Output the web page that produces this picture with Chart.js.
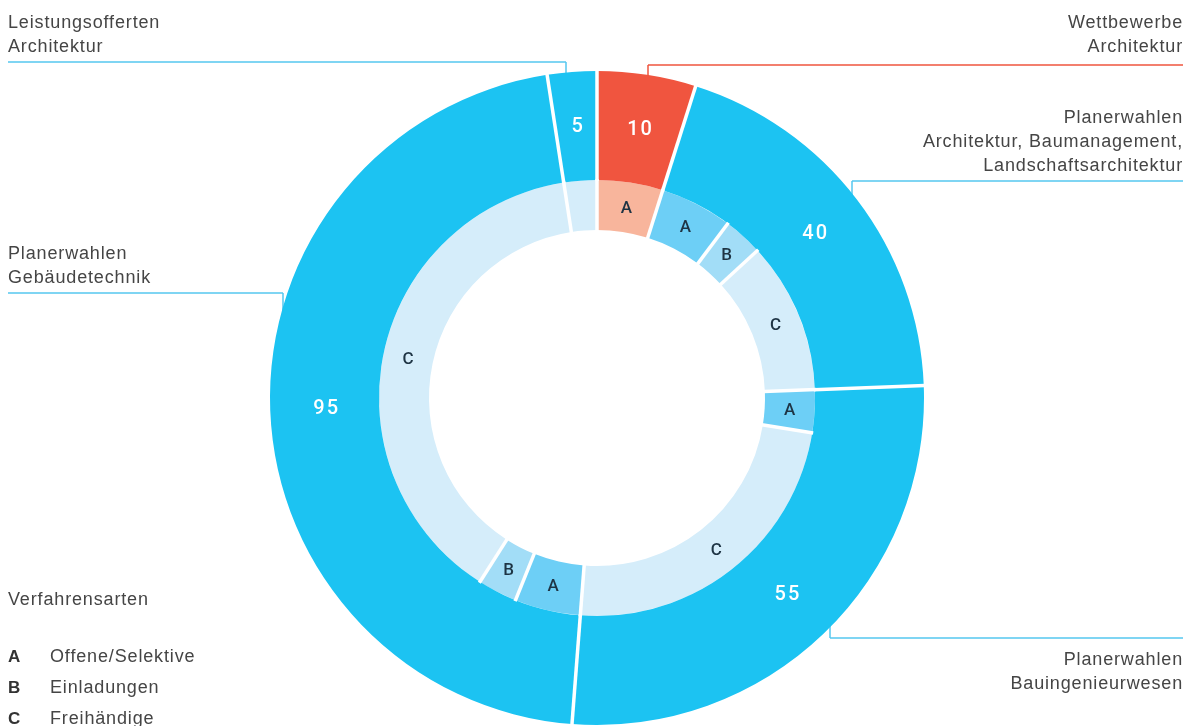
<!DOCTYPE html>
<html><head><meta charset="utf-8">
<script src="https://cdn.jsdelivr.net/npm/chart.js@4"></script>
<style>html,body{margin:0;padding:0;background:#fff;overflow:hidden}#wrap{width:1189px;height:726px;position:relative}</style>
</head><body><div id="wrap"><canvas id="c" width="1189" height="726"></canvas></div>
<script>
// ---- data ----
const groupNames = ['Wettbewerbe Architektur', 'Planerwahlen Architektur, Baumanagement, Landschaftsarchitektur', 'Planerwahlen Bauingenieurwesen', 'Planerwahlen Gebäudetechnik', 'Leistungsofferten Architektur'];
const groupValues = [10, 40, 55, 95, 5];
const subGroupIndex = [0, 1, 1, 1, 2, 2, 3, 3, 3, 4];
const subTypes = ['A', 'A', 'B', 'C', 'A', 'C', 'A', 'B', 'C', ''];
const subValues = [10, 11, 6, 23, 6.5, 48.5, 10, 6, 79, 5];
const legendKeys = ['A', 'B', 'C'];
const legendNames = ['Offene/Selektive', 'Einladungen', 'Freihändige'];
const legendTitle = 'Verfahrensarten';

// ---- styles ----
const RED = '#F0553F', BLUE = '#1CC3F2';
const SUB_COL = { A: '#6DCFF6', B: '#A2DDF7', C: '#D5EDFA', '': '#D5EDFA' };
const SALMON = '#F8B59C';
const outerColors = groupValues.map((v, i) => i === 0 ? RED : BLUE);
const innerColors = subTypes.map((t, i) => subGroupIndex[i] === 0 ? SALMON : SUB_COL[t]);
const TEXT = '#454545';
const FONT = '"Liberation Sans", Arial, sans-serif';

const callouts = [
  { g: 4, lines: ['Leistungsofferten', 'Architektur'], align: 'left', x: 8, y0: 28, lineY: 62, x1: 8, x2: 566, ax: 566, col: '#55C8EF' },
  { g: 0, lines: ['Wettbewerbe', 'Architektur'], align: 'right', x: 1183, y0: 28, lineY: 65, x1: 648, x2: 1183, ax: 648, col: RED },
  { g: 1, lines: ['Planerwahlen', 'Architektur, Baumanagement,', 'Landschaftsarchitektur'], align: 'right', x: 1183, y0: 123, lineY: 181, x1: 852, x2: 1183, ax: 852, col: '#55C8EF' },
  { g: 3, lines: ['Planerwahlen', 'Gebäudetechnik'], align: 'left', x: 8, y0: 259, lineY: 293, x1: 8, x2: 283, ax: 283, col: '#55C8EF' },
  { g: 2, lines: ['Planerwahlen', 'Bauingenieurwesen'], align: 'right', x: 1183, y0: 665, lineY: 638, x1: 830, x2: 1183, ax: 830, col: '#55C8EF' }
];

const calloutPlugin = {
  id: 'callouts',
  beforeDatasetsDraw(chart) {
    const ctx = chart.ctx;
    const arc0 = chart.getDatasetMeta(0).data[0];
    const cx = arc0.x, cy = arc0.y, R = arc0.outerRadius;
    ctx.save();
    callouts.forEach(c => {
      ctx.strokeStyle = c.col; ctx.lineWidth = 1.5;
      const dx = c.ax - cx;
      const h = Math.sqrt(Math.max(R * R - dx * dx, 0));
      const yEdge = c.lineY < cy ? cy - h + 6 : cy + h - 6;
      ctx.beginPath();
      ctx.moveTo(c.x1, c.lineY); ctx.lineTo(c.x2, c.lineY);
      ctx.moveTo(c.ax, c.lineY); ctx.lineTo(c.ax, yEdge);
      ctx.stroke();
    });
    ctx.restore();
  },
  afterDatasetsDraw(chart) {
    const ctx = chart.ctx;
    ctx.save();
    const m0 = chart.getDatasetMeta(0), m1 = chart.getDatasetMeta(1);
    ctx.strokeStyle = '#fff'; ctx.lineWidth = 3.5;
    [m0, m1].forEach(m => m.data.forEach(a => {
      const ang = a.startAngle;
      ctx.beginPath();
      ctx.moveTo(a.x + Math.cos(ang) * (a.innerRadius - 1), a.y + Math.sin(ang) * (a.innerRadius - 1));
      ctx.lineTo(a.x + Math.cos(ang) * (a.outerRadius + 1), a.y + Math.sin(ang) * (a.outerRadius + 1));
      ctx.stroke();
    }));
    ctx.textAlign = 'center'; ctx.textBaseline = 'middle';
    ctx.fillStyle = '#fff';
    ctx.font = '500 20px Roboto, ' + FONT;
    ctx.letterSpacing = '2px';
    m0.data.forEach((a, i) => {
      const p = a.tooltipPosition();
      ctx.fillText(String(groupValues[i]), p.x + 2, p.y + 1);
    });
    ctx.letterSpacing = '0px';
    ctx.fillStyle = '#1E3444';
    ctx.font = '500 17px Roboto, ' + FONT;
    m1.data.forEach((a, i) => {
      if (!subTypes[i]) return;
      const p = a.tooltipPosition();
      ctx.fillText(subTypes[i], p.x, p.y + 1);
    });
    ctx.textBaseline = 'alphabetic';
    ctx.fillStyle = TEXT;
    ctx.font = '18px ' + FONT;
    ctx.letterSpacing = '0.85px';
    callouts.forEach(c => {
      ctx.textAlign = c.align;
      c.lines.forEach((t, k) => ctx.fillText(t, c.x, c.y0 + k * 24));
    });
    ctx.textAlign = 'left';
    ctx.fillText(legendTitle, 8, 605);
    legendKeys.forEach((k, i) => {
      const y = 662 + i * 31;
      ctx.font = 'bold 17px ' + FONT; ctx.fillStyle = '#333';
      ctx.fillText(k, 8, y);
      ctx.font = '18px ' + FONT; ctx.fillStyle = TEXT;
      ctx.fillText(legendNames[i], 50, y);
    });
    ctx.restore();
  }
};

new Chart(document.getElementById('c'), {
  type: 'doughnut',
  data: {
    labels: subTypes,
    datasets: [
      { data: groupValues, backgroundColor: outerColors, borderWidth: 0, weight: 109 },
      { data: subValues, backgroundColor: innerColors, borderWidth: 0, weight: 50 }
    ]
  },
  options: {
    responsive: false,
    animation: false,
    cutout: 168,
    layout: { padding: { top: 71, bottom: 1, left: 5, right: 0 } },
    plugins: { legend: { display: false }, tooltip: { enabled: false } }
  },
  plugins: [calloutPlugin]
});
</script></body></html>
